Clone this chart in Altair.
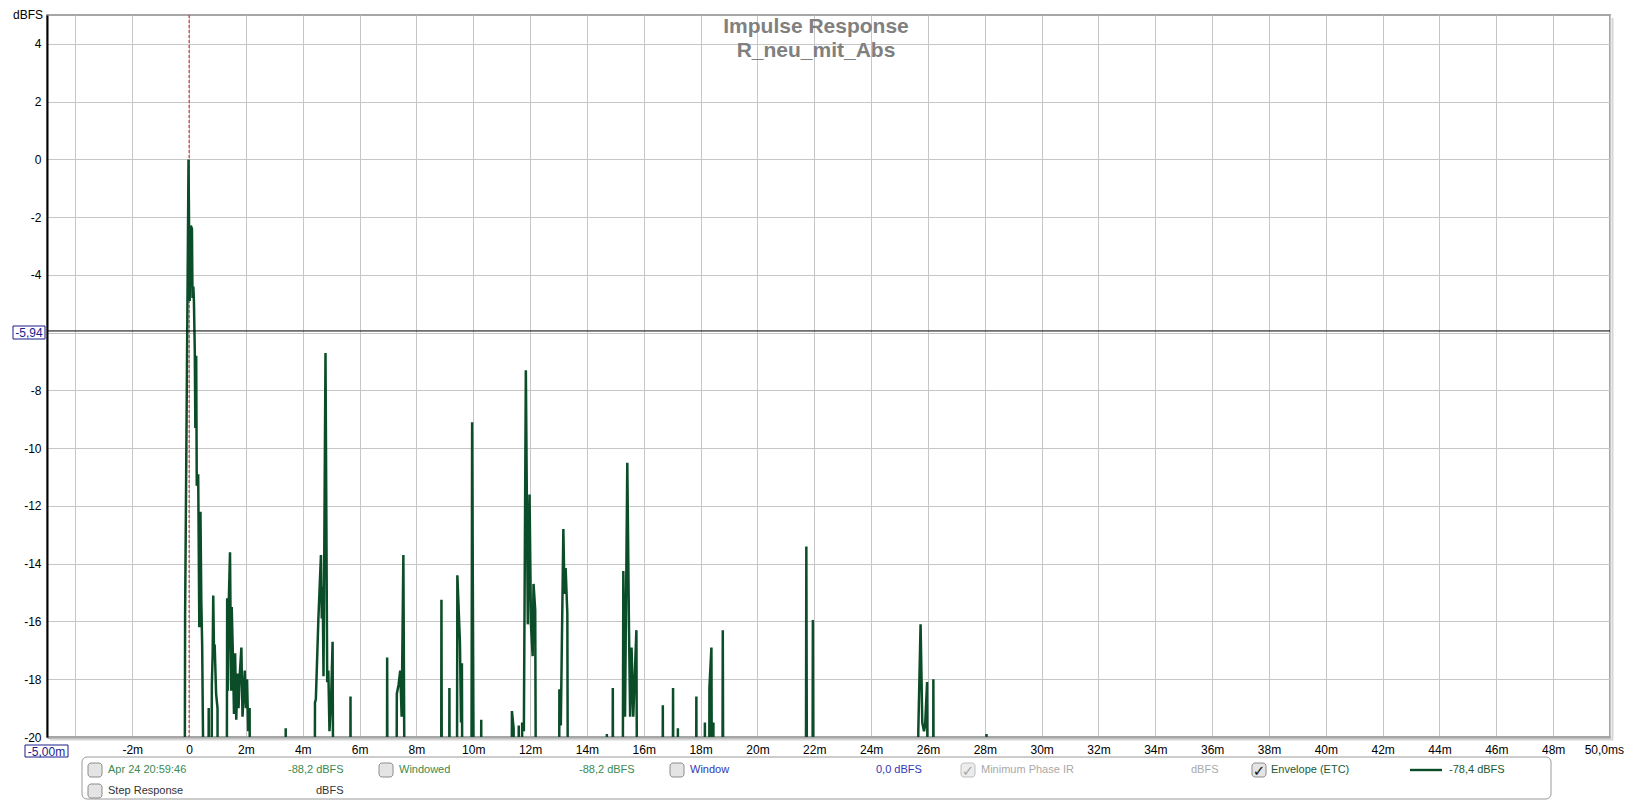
import altair as alt
import pandas as pd

FONT = "Liberation Sans"

# ---------------- data ----------------
# Envelope (ETC) trace: time in ms, level in dBFS (-30 = below the -20 dBFS floor of the view)
t_ms = [
    -5.0, -0.17, -0.14, -0.02,
    0.02, 0.06, 0.10, 0.12, 0.15, 0.17, 0.20, 0.22, 0.25, 0.27, 0.32, 0.36, 0.40, 0.43, 0.46, 0.50, 0.52,
    0.66, 0.69, 0.72,
    0.78, 0.80, 0.83, 0.85, 0.88, 0.90, 0.95, 1.00, 1.02,
    1.31, 1.34, 1.36, 1.40, 1.44, 1.48, 1.50, 1.54, 1.58, 1.62, 1.66, 1.70, 1.74, 1.78, 1.84, 1.88,
    1.96, 2.00, 2.04, 2.08, 2.13, 2.16,
    3.38, 3.40, 3.42,
    4.40, 4.43, 4.46, 4.55, 4.64, 4.67, 4.70, 4.73, 4.80, 4.86, 4.90, 4.94, 5.00, 5.05, 5.10,
    5.66, 5.68, 5.70,
    6.95, 6.97, 7.00,
    7.28, 7.31, 7.37, 7.43, 7.48, 7.54, 7.62,
    8.86, 8.88, 8.91,
    9.14, 9.16, 9.19,
    9.41, 9.44, 9.53, 9.57, 9.60, 9.64,
    9.92, 9.96, 10.05,
    10.25, 10.28, 10.30,
    11.33, 11.36, 11.42, 11.44,
    11.58, 11.60, 11.63,
    11.70, 11.72, 11.78, 11.85, 11.92, 11.98, 12.03, 12.09, 12.12, 12.18, 12.23,
    13.00, 13.03, 13.08, 13.17, 13.21, 13.25, 13.31, 13.35,
    14.68, 14.70, 14.72,
    14.88, 14.91, 14.94,
    15.24, 15.28, 15.34, 15.42, 15.48, 15.52, 15.57, 15.63, 15.74, 15.79,
    16.64, 16.67, 16.70,
    17.00, 17.03, 17.06,
    17.18, 17.20, 17.22,
    17.82, 17.85, 17.88,
    18.12, 18.15, 18.18,
    18.28, 18.31, 18.38, 18.42,
    18.43, 18.45, 18.47,
    18.75, 18.78, 18.82,
    21.69, 21.72, 21.76,
    21.92, 21.95, 21.99,
    25.63, 25.66, 25.74, 25.80, 25.86, 25.90, 25.97, 26.02,
    26.17, 26.19, 26.22,
    28.04, 28.06, 28.08,
    50.0,
]
etc_db = [
    -30, -30, -15.8, 0.0,
    -4.9, -2.3, -2.4, -4.8, -4.4, -4.9, -6.6, -9.3, -6.8, -11.3, -10.9, -16.2, -12.2, -15.3, -16.8, -21, -30,
    -30, -19.0, -30,
    -30, -18.2, -17.1, -15.1, -17.3, -16.8, -18.5, -19.0, -30,
    -30, -15.2, -18.4, -15.2, -13.6, -18.4, -15.5, -17.1, -19.2, -17.1, -19.4, -17.8, -19.0, -17.9, -16.9, -19.3,
    -17.7, -19.0, -18.0, -19.8, -19.0, -30,
    -30, -19.7, -30,
    -30, -18.8, -18.7, -15.9, -13.7, -15.9, -14.8, -17.9, -6.7, -18.1, -17.7, -19.8, -18.6, -16.7, -30,
    -30, -18.6, -30,
    -30, -17.25, -30,
    -30, -18.5, -18.2, -17.7, -19.3, -13.7, -30,
    -30, -15.25, -30,
    -30, -18.3, -30,
    -30, -14.4, -16.7, -19.5, -17.45, -30,
    -30, -9.1, -30,
    -30, -19.4, -30,
    -30, -19.1, -19.7, -30,
    -30, -19.6, -30,
    -30, -19.5, -19.8, -7.3, -16.1, -11.6, -16.1, -17.2, -14.7, -15.6, -30,
    -30, -18.35, -19.6, -12.8, -15.05, -14.15, -15.75, -30,
    -30, -19.9, -30,
    -30, -18.3, -30,
    -30, -14.25, -19.3, -10.5, -16.3, -19.3, -16.9, -19.3, -16.3, -30,
    -30, -18.9, -30,
    -30, -18.3, -30,
    -30, -19.7, -30,
    -30, -18.6, -30,
    -30, -19.5, -30,
    -30, -18.3, -16.9, -30,
    -30, -19.5, -30,
    -30, -16.3, -30,
    -30, -13.4, -30,
    -30, -15.95, -30,
    -30, -19.8, -16.1, -19.5, -19.8, -19.6, -18.1, -30,
    -30, -18.0, -30,
    -30, -19.9, -30,
    -30,
]

x_ticks = list(range(-4, 51, 2))          # ms
y_ticks = list(range(-20, 5, 2))          # dBFS
marker_ms = [0.0]                         # red dashed time reference
cursor_db = [-5.94]                       # horizontal cursor

title_lines = ["Impulse Response", "R_neu_mit_Abs"]

# ---------------- layout ----------------
PLOT_W, PLOT_H = 1563, 722

xscale = alt.Scale(domain=[-5, 50], nice=False, zero=False)
yscale = alt.Scale(domain=[-20, 5], nice=False, zero=False)

x_axis = alt.Axis(
    values=x_ticks,
    labelExpr="datum.value == -4 || datum.value == 50 ? '' : datum.value == 0 ? '0' : datum.value + 'm'",
    grid=True, gridColor="#c6c6c6", gridWidth=1,
    ticks=False, domain=True, domainColor="#a6a6a6", domainWidth=3,
    labelFont=FONT, labelFontSize=12, labelColor="#000000",
    labelPadding=7, labelFlush=False, labelOverlap=False, title=None,
)
y_axis = alt.Axis(
    values=y_ticks,
    labelExpr="datum.value == -6 ? '' : '' + datum.value",
    grid=True, gridColor="#c6c6c6", gridWidth=1,
    ticks=False, domain=True, domainColor="#000000", domainWidth=2,
    labelFont=FONT, labelFontSize=12, labelColor="#000000",
    labelPadding=6, labelOverlap=False, title=None,
)

df = pd.DataFrame({"t": t_ms, "db": etc_db})
df["i"] = range(len(df))

X = alt.X("t:Q", scale=xscale, axis=x_axis)
Y = alt.Y("db:Q", scale=yscale, axis=y_axis)

etc_line = alt.Chart(df).mark_line(
    color="#0b4d28", strokeWidth=2.5, clip=True, interpolate="linear"
).encode(x=X, y=Y, order="i:Q")

marker = alt.Chart(pd.DataFrame({"t": marker_ms})).mark_rule(
    color="#b02a2a", strokeDash=[3, 2], strokeWidth=1
).encode(x=X)

cursor = alt.Chart(pd.DataFrame({"db": cursor_db})).mark_rule(
    color="#000000", strokeWidth=1
).encode(y=Y)


def txt(s, x, y, color, size=11, align="left", weight="normal", font=FONT, baseline="middle"):
    return alt.Chart(pd.DataFrame({"s": [s]})).mark_text(
        align=align, baseline=baseline, font=font, fontSize=size,
        fontWeight=weight, color=color,
    ).encode(x=alt.value(x), y=alt.value(y), text="s:N")


def box(x1, x2, y1, y2, stroke, fill=None, radius=0, sw=1):
    kw = dict(stroke=stroke, strokeWidth=sw, cornerRadius=radius)
    if fill is None:
        kw.update(fill="#ffffff", fillOpacity=0)
    else:
        kw.update(fill=fill)
    return alt.Chart(pd.DataFrame({"s": [0]})).mark_rect(**kw).encode(
        x=alt.value(x1), x2=alt.value(x2), y=alt.value(y1), y2=alt.value(y2)
    )


def hline(x1, x2, y, color, sw):
    return alt.Chart(pd.DataFrame({"s": [0]})).mark_rule(color=color, strokeWidth=sw).encode(
        x=alt.value(x1), x2=alt.value(x2), y=alt.value(y)
    )


def vline(x, y1, y2, color, sw):
    return alt.Chart(pd.DataFrame({"s": [0]})).mark_rule(color=color, strokeWidth=sw).encode(
        x=alt.value(x), y=alt.value(y1), y2=alt.value(y2)
    )


def checkbox(x, y, checked=False, enabled=True):
    fill = "#e4e4e4" if enabled else "#ececec"
    stroke = "#8c8c8c" if enabled else "#bdbdbd"
    parts = [box(x, x + 14, y, y + 14, stroke, fill=fill, radius=3)]
    if checked:
        parts.append(txt("✓", x + 7, y + 7.5, "#111111" if enabled else "#a8a8a8",
                         size=15, align="center", weight="bold", font="DejaVu Sans"))
    return parts


GREEN = "#3a8a52"
DKGREEN = "#1b5a34"
BLUE = "#3434b4"
GREY = "#a9a9a9"
NAVY = "#1c1c8e"

layers = [marker, etc_line, cursor]

# frame shadow
layers += [
    vline(PLOT_W + 2.5, 3, PLOT_H + 3, "#d6d6d6", 2),
    hline(3, PLOT_W + 3, PLOT_H + 2.5, "#d6d6d6", 2),
]

# titles and axis captions
layers += [
    txt(title_lines[0], 769, 18, "#808080", size=21, align="center", weight="bold", baseline="alphabetic"),
    txt(title_lines[1], 769, 42, "#808080", size=21, align="center", weight="bold", baseline="alphabetic"),
    txt("dBFS", -34, 0, "#000000", size=12),
    txt("50,0ms", PLOT_W + 14, PLOT_H + 13, "#000000", size=12, align="right"),
]

# cursor value boxes
layers += [
    box(-34, -2, 311, 324, NAVY, fill="#ffffff"),
    txt("-5,94", -18, 317.5, NAVY, size=12, align="center"),
    box(-22, 21, 730, 742, NAVY, fill="#ffffff"),
    txt("-5,00m", -0.5, 736.5, NAVY, size=12, align="center"),
]

# legend panel
R1, R2 = 755, 776
layers.append(box(35, 1504, 742, 784, "#9a9a9a", radius=5))
layers += checkbox(41, R1 - 7)
layers += [txt("Apr 24 20:59:46", 61, R1, GREEN), txt("-88,2 dBFS", 241, R1, GREEN)]
layers += checkbox(332, R1 - 7)
layers += [txt("Windowed", 352, R1, GREEN), txt("-88,2 dBFS", 532, R1, GREEN)]
layers += checkbox(623, R1 - 7)
layers += [txt("Window", 643, R1, BLUE), txt("0,0 dBFS", 829, R1, BLUE)]
layers += checkbox(914, R1 - 7, checked=True, enabled=False)
layers += [txt("Minimum Phase IR", 934, R1, GREY), txt("dBFS", 1144, R1, GREY)]
layers += checkbox(1205, R1 - 7, checked=True)
layers += [txt("Envelope (ETC)", 1224, R1, DKGREEN),
           hline(1363, 1395, R1, "#0b4d28", 2.4),
           txt("-78,4 dBFS", 1402, R1, DKGREEN)]
layers += checkbox(41, R2 - 7)
layers += [txt("Step Response", 61, R2, "#333333"), txt("dBFS", 269, R2, "#333333")]

chart = alt.layer(*layers).properties(
    width=PLOT_W, height=PLOT_H,
    autosize=alt.AutoSizeParams(type="none"),
    padding={"left": 39, "top": 7, "right": 15, "bottom": 63},
    background="#ffffff",
).configure_view(stroke="#a6a6a6", strokeWidth=2)

chart.save("out.html", embed_options={"renderer": "svg", "actions": False})
